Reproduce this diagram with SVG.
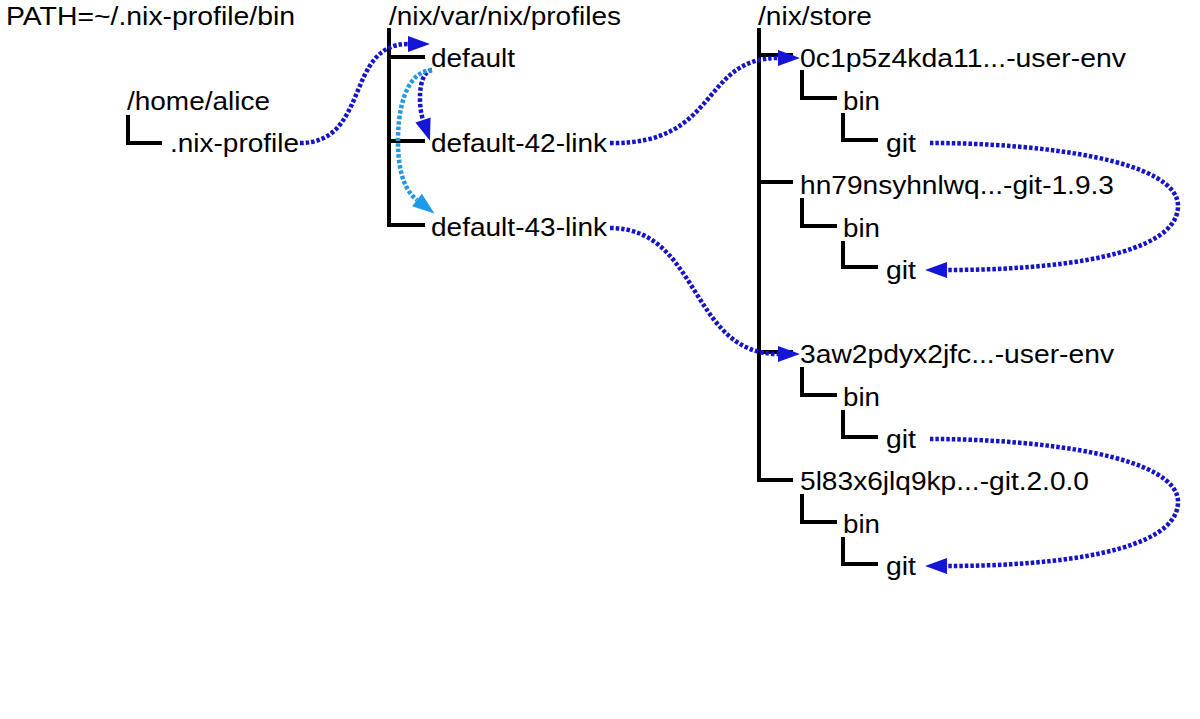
<svg xmlns="http://www.w3.org/2000/svg" width="1200" height="719" viewBox="0 0 1200 719">
<style>
  .t { font-family: "Liberation Sans", Arial, sans-serif; font-size: 25px; fill: #000; }
  .tree { fill: none; stroke: #000; stroke-width: 4; stroke-linejoin: miter; }
  .dk { fill: none; stroke: #1414c8; stroke-width: 4.5; stroke-dasharray: 3.5 2; marker-end: url(#ahDark); }
  .lt { fill: none; stroke: #2596e0; stroke-width: 4.5; stroke-dasharray: 3.5 2; marker-end: url(#ahLight); }
</style>
<defs>
  <marker id="ahDark" markerUnits="userSpaceOnUse" markerWidth="22" markerHeight="16" refX="0" refY="8" orient="auto" overflow="visible">
    <path d="M0,0 L22,8 L0,16 Z" fill="#1515d8"/>
  </marker>
  <marker id="ahLight" markerUnits="userSpaceOnUse" markerWidth="22" markerHeight="16" refX="0" refY="8" orient="auto" overflow="visible">
    <path d="M0,0 L22,8 L0,16 Z" fill="#1e9be8"/>
  </marker>
</defs>
<rect width="1200" height="719" fill="#fff"/>

<g id="path-var">
  <text class="t" x="6" y="25" textLength="289" lengthAdjust="spacingAndGlyphs">PATH=~/.nix-profile/bin</text>
</g>

<g id="home">
  <text class="t" x="127" y="110" textLength="143" lengthAdjust="spacingAndGlyphs">/home/alice</text>
  <path class="tree" d="M128,115 V143 H162"/>
</g>
<g id="nix-profile">
  <text class="t" x="170" y="152" textLength="129" lengthAdjust="spacingAndGlyphs">.nix-profile</text>
</g>

<g id="profiles">
  <text class="t" x="389" y="25" textLength="232" lengthAdjust="spacingAndGlyphs">/nix/var/nix/profiles</text>
  <path class="tree" d="M389,28 V225 H425 M389,57 H425 M389,141 H425"/>
</g>
<g id="default">
  <text class="t" x="431" y="67" textLength="84" lengthAdjust="spacingAndGlyphs">default</text>
</g>
<g id="default-42-link">
  <text class="t" x="431" y="152" textLength="176" lengthAdjust="spacingAndGlyphs">default-42-link</text>
</g>
<g id="default-43-link">
  <text class="t" x="431" y="236" textLength="176" lengthAdjust="spacingAndGlyphs">default-43-link</text>
</g>

<g id="store">
  <text class="t" x="758" y="25" textLength="114" lengthAdjust="spacingAndGlyphs">/nix/store</text>
  <path class="tree" d="M759,28 V480 H793 M759,55 H793 M759,182 H793 M759,352 H793"/>
</g>

<g id="env42">
  <text class="t" x="800" y="67" textLength="326" lengthAdjust="spacingAndGlyphs">0c1p5z4kda11...-user-env</text>
  <path class="tree" d="M802,70 V98 H837"/>
  <text class="t" x="843" y="110" textLength="37" lengthAdjust="spacingAndGlyphs">bin</text>
  <path class="tree" d="M843,113 V140 H878"/>
  <text class="t" x="886" y="152" textLength="30" lengthAdjust="spacingAndGlyphs">git</text>
</g>

<g id="git193">
  <text class="t" x="800" y="194" textLength="314" lengthAdjust="spacingAndGlyphs">hn79nsyhnlwq...-git-1.9.3</text>
  <path class="tree" d="M802,198 V226 H837"/>
  <text class="t" x="843" y="237" textLength="37" lengthAdjust="spacingAndGlyphs">bin</text>
  <path class="tree" d="M843,241 V267 H878"/>
  <text class="t" x="886" y="279" textLength="30" lengthAdjust="spacingAndGlyphs">git</text>
</g>

<g id="env43">
  <text class="t" x="800" y="363" textLength="314" lengthAdjust="spacingAndGlyphs">3aw2pdyx2jfc...-user-env</text>
  <path class="tree" d="M802,367 V395 H837"/>
  <text class="t" x="843" y="406" textLength="37" lengthAdjust="spacingAndGlyphs">bin</text>
  <path class="tree" d="M843,410 V437 H878"/>
  <text class="t" x="886" y="448" textLength="30" lengthAdjust="spacingAndGlyphs">git</text>
</g>

<g id="git200">
  <text class="t" x="800" y="490" textLength="289" lengthAdjust="spacingAndGlyphs">5l83x6jlq9kp...-git.2.0.0</text>
  <path class="tree" d="M802,494 V522 H837"/>
  <text class="t" x="843" y="533" textLength="37" lengthAdjust="spacingAndGlyphs">bin</text>
  <path class="tree" d="M843,537 V564 H878"/>
  <text class="t" x="886" y="575" textLength="30" lengthAdjust="spacingAndGlyphs">git</text>
</g>

<g id="connectors">
  <path class="dk" d="M300,143 C370,143 345,44 408,44"/>
  <path class="dk" d="M432,70 C418,72 418,105 423,120"/>
  <path class="lt" d="M432,70 C405,72 398,110 398,141 C398,170 404,190 417,200"/>
  <path class="dk" d="M610,143 C720,145 700,58 778,58"/>
  <path class="dk" d="M610,228 C700,228 690,354 778,354"/>
  <path class="dk" d="M930,143 C1040,143 1180,160 1178,207 C1176,255 1060,270 947,270"/>
  <path class="dk" d="M930,439 C1040,439 1180,456 1178,503 C1176,551 1060,566 947,566"/>
</g>
</svg>
